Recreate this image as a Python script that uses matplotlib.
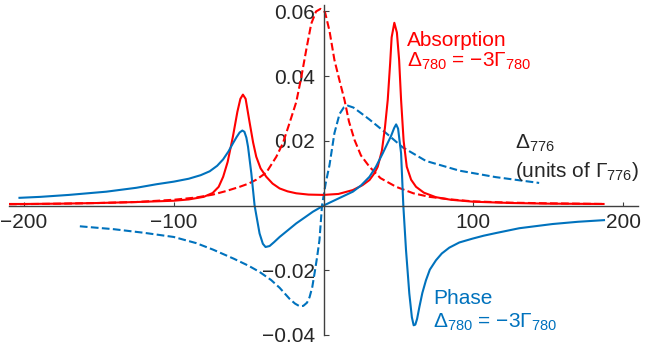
import matplotlib
matplotlib.use("Agg")
import matplotlib.pyplot as plt

# detuning (units of Gamma_776) and signals
absorption_x = [-210, -200, -175, -150, -125, -100, -90, -80, -74, -70, -67, -64,
                -60.5, -57.5, -55.5, -53.8, -52, -49.3, -47, -44.9, -42, -38.2,
                -34, -29.3, -24, -18.2, -10, 0, 10, 19.6, 26, 30.7, 34, 36.2, 39,
                41, 42.9, 44.5, 45.5, 47.3, 49, 50.5, 51.8, 53.5, 55.6, 58.5, 61.8,
                67, 75, 85, 100, 125, 150, 187]
absorption_y = [0.0005, 0.0005, 0.0006, 0.0008, 0.0011, 0.0015, 0.0019, 0.0027,
                0.0039, 0.0058, 0.0089, 0.0135, 0.0213, 0.0290, 0.0330, 0.0343,
                0.0330, 0.0256, 0.0195, 0.0151, 0.0115, 0.0089, 0.0068, 0.0053,
                0.0044, 0.0038, 0.0034, 0.0033, 0.0036, 0.0048, 0.0063, 0.0079,
                0.0100, 0.0120, 0.0170, 0.0240, 0.0327, 0.0440, 0.0520, 0.0565,
                0.0535, 0.0450, 0.0327, 0.0200, 0.0120, 0.0080, 0.0058, 0.0040,
                0.0026, 0.0018, 0.0012, 0.0008, 0.0006, 0.0005]

lorentz_x = [-210, -175, -150, -125, -100, -85, -73.8, -65, -56, -50, -44.9, -38.2,
             -31.5, -27.1, -22.7, -18.2, -14.9, -11.5, -8.2, -5, -2, 1, 4, 7.3,
             10.5, 14, 17, 20.7, 25, 30.7, 38, 48.5, 60, 70.7, 85, 100, 125, 150, 187]
lorentz_y = [0.0004, 0.0006, 0.0008, 0.0011, 0.0018, 0.0025, 0.0034, 0.0045,
             0.0058, 0.0068, 0.0080, 0.0102, 0.0151, 0.0193, 0.0255, 0.0320,
             0.0395, 0.0482, 0.0562, 0.0600, 0.0608, 0.0598, 0.0540, 0.0450,
             0.0390, 0.0327, 0.0260, 0.0203, 0.0155, 0.0120, 0.0085, 0.0058,
             0.0038, 0.0027, 0.0019, 0.0013, 0.0009, 0.0007, 0.0005]

phase_x = [-203, -189, -170, -145, -125, -111.5, -100, -90, -82, -76, -71, -67,
           -63.5, -60.4, -58, -56, -54.2, -52.8, -51.5, -50.4, -48.2, -46, -42.7,
           -40.5, -38.7, -36, -33, -29.3, -24, -18.2, -12, -7.1, 0, 10, 19.6, 25,
           30.7, 35, 39.6, 43, 45.1, 47.2, 48.5, 49.8, 51.8, 53.3, 55.1, 57.3, 59,
           60.2, 61.3, 62.5, 64, 66, 68.4, 71, 75.1, 79, 84, 90.7, 99.6, 107, 115,
           130.7, 152.9, 170, 187.3]
phase_y = [0.0024, 0.0027, 0.0033, 0.0043, 0.0055, 0.0066, 0.0074, 0.0083,
           0.0094, 0.0106, 0.0123, 0.0143, 0.0167, 0.0193, 0.0212, 0.0226, 0.0232,
           0.0228, 0.0210, 0.0182, 0.0100, 0.0000, -0.0086, -0.0118, -0.0128,
           -0.0125, -0.0113, -0.0097, -0.0077, -0.0055, -0.0035, -0.0019, 0.0,
           0.0022, 0.0043, 0.0062, 0.0089, 0.0120, 0.0162, 0.0195, 0.0215, 0.0240,
           0.0251, 0.0238, 0.0162, 0.0, -0.0138, -0.0272, -0.0345, -0.0370,
           -0.0368, -0.0350, -0.0314, -0.0270, -0.0231, -0.0198, -0.0169, -0.0148,
           -0.0130, -0.0114, -0.0102, -0.0093, -0.0085, -0.0070, -0.0057, -0.0050,
           -0.0045]

dispersion_x = [-162.7, -140, -120, -100, -85, -73.8, -60, -50, -42.7, -35, -29.3,
                -22.7, -19, -16, -13.5, -11, -9.3, -7.5, -6, -4.3, -2.7, -1, 1.5, 4,
                7.3, 10.7, 13.5, 16.2, 20, 25, 30.7, 41.8, 52.9, 68.4, 90.7, 115, 144]
dispersion_y = [-0.0064, -0.0073, -0.0084, -0.0097, -0.0116, -0.0136, -0.0164,
                -0.0186, -0.0205, -0.0230, -0.0254, -0.0288, -0.0303, -0.0311,
                -0.0310, -0.0300, -0.0283, -0.0252, -0.0210, -0.0160, -0.0107, 0.0,
                0.0070, 0.0125, 0.0224, 0.0283, 0.0303, 0.0309, 0.0303, 0.0286,
                0.0266, 0.0224, 0.0180, 0.0138, 0.0108, 0.0088, 0.0070]

xtick_values = [-200, -100, 100, 200]
xtick_labels = ['\u2212200', '\u2212100', '100', '200']
ytick_values = [-0.04, -0.02, 0.02, 0.04, 0.06]
ytick_labels = ['\u22120.04', '\u22120.02', '0.02', '0.04', '0.06']

RED = '#FF0000'
BLUE = '#0072BD'
INK = '#262626'

plt.rcParams['font.family'] = ['Liberation Sans', 'DejaVu Sans']
plt.rcParams['mathtext.fontset'] = 'custom'
plt.rcParams['mathtext.rm'] = 'Liberation Sans'
plt.rcParams['mathtext.it'] = 'Liberation Sans:italic'

fig = plt.figure(figsize=(6.47, 3.51), dpi=100)
ax = fig.add_axes([9 / 647, 16 / 351, 629 / 647, 330 / 351])

ax.plot(lorentz_x, lorentz_y, color=RED, lw=1.5, ls='--')
ax.plot(dispersion_x, dispersion_y, color=BLUE, lw=1.5, ls='--')
ax.plot(absorption_x, absorption_y, color=RED, lw=1.5)
ax.plot(phase_x, phase_y, color=BLUE, lw=1.5)

ax.set_xlim(-210, 210)
ax.set_ylim(-0.04, 0.062)

# axes through the origin
for side in ['top', 'right']:
    ax.spines[side].set_visible(False)
ax.spines['left'].set_position(('data', 0))
ax.spines['bottom'].set_position(('data', 0))
for side in ['left', 'bottom']:
    ax.spines[side].set_color('#404040')
    ax.spines[side].set_linewidth(1.0)

fs = 15
ax.set_xticks(xtick_values)
ax.set_xticklabels(xtick_labels)
ax.set_yticks(ytick_values)
ax.set_yticklabels(ytick_labels)
ax.tick_params(axis='x', direction='in', length=2.6, width=0.8, color='#404040',
               labelsize=fs, labelcolor=INK, pad=5)
ax.tick_params(axis='y', direction='in', length=3.6, width=0.8, color='#404040',
               labelsize=fs, labelcolor=INK, pad=6)

ax.text(56, 0.0492, 'Absorption', color=RED, fontsize=fs, ha='left', va='baseline')
ax.text(56, 0.0430, '$\\Delta_{780}$ = \u22123$\\Gamma_{780}$', color=RED,
        fontsize=fs, ha='left', va='baseline')
ax.text(73.3, -0.0303, 'Phase', color=BLUE, fontsize=fs, ha='left', va='baseline')
ax.text(73, -0.0376, '$\\Delta_{780}$ = \u22123$\\Gamma_{780}$', color=BLUE,
        fontsize=fs, ha='left', va='baseline')
ax.text(128, 0.0177, '$\\Delta_{776}$', color=INK, fontsize=fs, ha='left',
        va='baseline')
ax.text(128, 0.0089, '(units of $\\Gamma_{776}$)', color=INK, fontsize=fs,
        ha='left', va='baseline')

fig.savefig('out.png', dpi=100)
